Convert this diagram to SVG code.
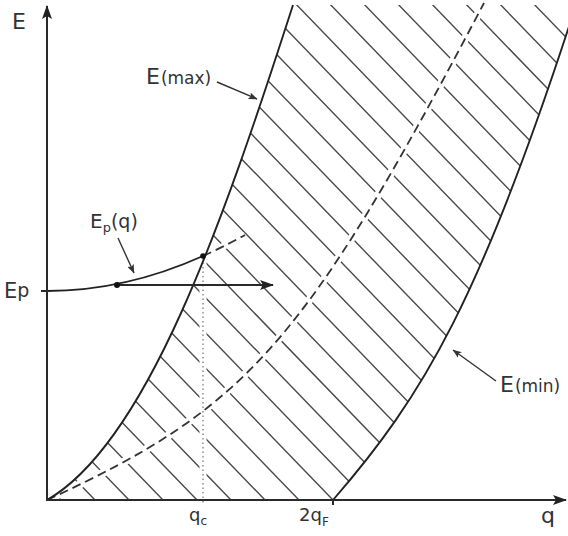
<svg xmlns="http://www.w3.org/2000/svg" width="568" height="536" viewBox="0 0 568 536">
<style>
  .ax{stroke:#2a2a2a;stroke-width:2;fill:none}
  .cv{stroke:#222;stroke-width:1.9;fill:none}
  .hatch{stroke:#4a4a4a;stroke-width:1.4;fill:none}
  .dash{stroke:#333;stroke-width:1.8;fill:none;stroke-dasharray:9 5}
  .gap{stroke:#fff;fill:none}
  .dot{stroke:#aaa;stroke-width:2;fill:none;stroke-dasharray:1.5 3}
  .ptr{stroke:#333;stroke-width:1.4;fill:none}
  text{font-family:"DejaVu Sans","Liberation Sans",sans-serif;fill:#333}
</style>
<defs>
  <clipPath id="band">
    <path d="M47,500 C147,443 223,222 293,5 L576,5 C481,299.5 423,396.5 333,500 Z"/>
  </clipPath>
  <marker id="big" viewBox="0 0 14 10" refX="13" refY="5" markerWidth="14" markerHeight="10" markerUnits="userSpaceOnUse" orient="auto">
    <path d="M0,0 L14,5 L0,10 L3,5 Z" fill="#222"/>
  </marker>
  <marker id="small" viewBox="0 0 9 7" refX="8.5" refY="3.5" markerWidth="9" markerHeight="7" markerUnits="userSpaceOnUse" orient="auto">
    <path d="M0,0 L9,3.5 L0,7 L2,3.5 Z" fill="#333"/>
  </marker>
</defs>

<g id="hatching" clip-path="url(#band)">
  <path class="hatch" d="M61,500 l-483,-500 M95,500 l-483,-500 M129,500 l-483,-500 M163,500 l-483,-500 M197,500 l-483,-500 M231,500 l-483,-500 M265,500 l-483,-500 M299,500 l-483,-500 M333,500 l-483,-500 M367,500 l-483,-500 M401,500 l-483,-500 M435,500 l-483,-500 M469,500 l-483,-500 M503,500 l-483,-500 M537,500 l-483,-500 M571,500 l-483,-500 M605,500 l-483,-500 M639,500 l-483,-500 M673,500 l-483,-500 M707,500 l-483,-500 M741,500 l-483,-500 M775,500 l-483,-500 M809,500 l-483,-500 M843,500 l-483,-500 M877,500 l-483,-500 M911,500 l-483,-500 M945,500 l-483,-500 M979,500 l-483,-500 M1013,500 l-483,-500 M1047,500 l-483,-500"/>
  <path class="gap" stroke-width="8" d="M47,500 C247,408 304,345 484,3"/>
  <path class="gap" stroke-width="7" d="M203,258 L203,500"/>
  <path class="gap" stroke-width="7" d="M203,256 Q224,246.6 245,235"/>
</g>

<g id="dashed-curves">
  <path class="dash" d="M47,500 C247,408 304,345 484,3"/>
  <path class="dash" stroke-dasharray="7 4" d="M203,256 Q224,246.6 245,235"/>
  <path class="dot" d="M203,258 L203,505"/>
</g>

<g id="boundaries">
  <path id="Emax" class="cv" d="M47,500 C147,443 223,222 293,5"/>
  <path id="Emin" class="cv" d="M333,500 C423,396.5 481,299.5 576,5"/>
  <path id="Epq" class="cv" d="M47,291 Q125,291 203,256"/>
</g>

<g id="axes">
  <path class="ax" d="M47,501 L47,6" marker-end="url(#big)"/>
  <path class="ax" d="M46,500 L566,500" marker-end="url(#big)"/>
  <path class="ax" stroke-width="1.5" d="M41,291 L47,291"/>
  <path class="ax" stroke-width="1.5" d="M333,500 L333,505"/>
</g>

<g id="connectors">
  <path class="ax" stroke-width="2" d="M117,285 L273,285" marker-end="url(#big)"/>
  <path class="ptr" d="M217,82 L257,99" marker-end="url(#small)"/>
  <path class="ptr" d="M496,381 L453,350" marker-end="url(#small)"/>
  <path class="ptr" d="M118,238 L134,273" marker-end="url(#small)"/>
</g>

<g id="points">
  <circle cx="117" cy="285" r="3" fill="#111"/>
  <circle cx="203" cy="256" r="2.8" fill="#111"/>
</g>

<g id="labels">
  <text x="12" y="29" font-size="22">E</text>
  <text x="146" y="84" font-size="22">E<tspan font-size="17" dx="1">(max)</tspan></text>
  <text x="500" y="392" font-size="22">E<tspan font-size="17" dx="1">(min)</tspan></text>
  <text x="4" y="298" font-size="21">E<tspan font-size="19" dy="-1">p</tspan></text>
  <text x="90" y="228" font-size="20">E<tspan font-size="13" dy="4">p</tspan><tspan font-size="19" dy="-4">(q)</tspan></text>
  <text x="189" y="521" font-size="18">q<tspan font-size="12" dy="4">c</tspan></text>
  <text x="299" y="521" font-size="18">2q<tspan font-size="12" dy="5">F</tspan></text>
  <text x="541" y="523" font-size="22">q</text>
</g>
</svg>
